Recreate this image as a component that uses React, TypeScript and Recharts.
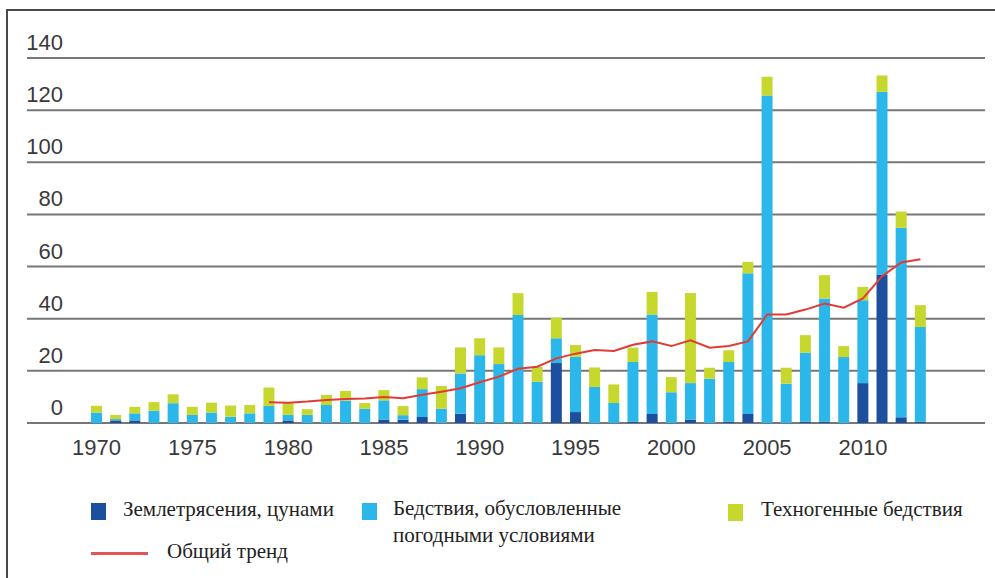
import React from "react";
import { ComposedChart, Bar, Line, XAxis, YAxis, CartesianGrid } from "recharts";

const years = [
  1970, 1971, 1972, 1973, 1974, 1975, 1976, 1977, 1978, 1979,
  1980, 1981, 1982, 1983, 1984, 1985, 1986, 1987, 1988, 1989,
  1990, 1991, 1992, 1993, 1994, 1995, 1996, 1997, 1998, 1999,
  2000, 2001, 2002, 2003, 2004, 2005, 2006, 2007, 2008, 2009,
  2010, 2011, 2012, 2013,
];

// Землетрясения, цунами
const quakes = [
  0, 1, 1, 0, 0, 0, 0, 0, 0, 0,
  1, 0, 0, 0, 0, 1.3, 1.3, 2.3, 0, 3.6,
  0, 0, 0, 0, 23, 4.2, 0, 0, 0.5, 3.5,
  0, 1.3, 0, 0.5, 3.5, 0, 0, 0.5, 0.5, 0,
  15.3, 57, 2.2, 0.5,
];

// Бедствия, обусловленные погодными условиями
const weather = [
  4, 0.5, 2.7, 4.7, 7.6, 3.1, 4, 2.4, 3.7, 6.5,
  2.1, 3.1, 6.9, 8.6, 5.5, 7.4, 1.7, 10.7, 5.5, 15.4,
  26, 22.6, 41.4, 15.8, 9.5, 21.2, 13.8, 7.7, 22.9, 38.1,
  11.8, 14, 17, 22.9, 53.9, 125.6, 15.1, 26.5, 47.3, 25.3,
  31.8, 70, 72.7, 36.3,
];

// Техногенные бедствия
const manmade = [
  2.6, 1.6, 2.5, 3.3, 3.4, 3.1, 3.8, 4.3, 3.2, 7.1,
  4.7, 2.2, 3.9, 3.7, 2.2, 3.9, 3.5, 4.5, 8.7, 10,
  6.5, 6.4, 8.4, 5.7, 7.9, 4.5, 7.5, 7.1, 5.5, 8.7,
  5.8, 34.6, 4.2, 4.5, 4.4, 7.2, 6.1, 6.7, 8.9, 4.2,
  5.1, 6.3, 6.2, 8.4,
];

// Общий тренд (с 1979 г.)
const trend: (number | null)[] = [
  null, null, null, null, null, null, null, null, null, 8,
  7.8, 8.2, 8.8, 9.2, 9.4, 10, 9.5, 10.8, 12, 13.3,
  15.6, 17.8, 20.8, 21.6, 24.8, 26.6, 28, 27.6, 30, 31.3,
  29.5, 31.7, 28.9, 29.5, 31.3, 41.6, 41.6, 43.5, 45.8, 44.2,
  47.8, 56.3, 61.6, 62.8,
];

const yTicks = [0, 20, 40, 60, 80, 100, 120, 140];

const data = years.map((year, i) => ({
  year,
  quakes: quakes[i],
  weather: weather[i],
  manmade: manmade[i],
  trend: trend[i],
}));

const C_QUAKE = "#1d4f9f";
const C_WEATHER = "#2cb7ea";
const C_MANMADE = "#c6d82e";
const C_TREND = "#e23b36";
const AXIS_FONT = "'Liberation Sans', Arial, sans-serif";

const XTick = (props: any) => {
  const { x, y, payload } = props;
  return (
    <text x={x} y={y + 24} textAnchor="middle" fontSize={22} fill="#3a3a3a" fontFamily={AXIS_FONT}>
      {payload.value}
    </text>
  );
};

const YTick = (props: any) => {
  const { y, payload } = props;
  return (
    <text x={63} y={y - 8} textAnchor="end" fontSize={22} fill="#3a3a3a" fontFamily={AXIS_FONT}>
      {payload.value}
    </text>
  );
};

const legendText: React.CSSProperties = {
  position: "absolute",
  fontFamily: "'Liberation Serif', 'Times New Roman', serif",
  fontSize: 21,
  color: "#222",
  whiteSpace: "nowrap",
};

const swatch = (left: number, top: number, color: string) => (
  <div style={{ position: "absolute", left, top, width: 15, height: 17, background: color }} />
);

export default function App() {
  return (
    <div style={{ position: "absolute", left: 0, top: 0, width: 995, height: 578, background: "#fff", overflow: "hidden" }}>
      <div
        style={{
          position: "absolute",
          left: 6,
          top: 9,
          width: 995,
          height: 578,
          borderLeft: "2px solid #4a4a4a",
          borderTop: "2px solid #4a4a4a",
        }}
      />
      <ComposedChart
        width={995}
        height={578}
        data={data}
        margin={{ top: 58, right: 10, left: 7, bottom: 115 }}
        barCategoryGap={0}
        style={{ position: "absolute", left: 0, top: 0 }}
      >
        <CartesianGrid vertical={false} stroke="#777" strokeWidth={2} />
        <XAxis
          dataKey="year"
          height={40}
          interval={4}
          padding={{ left: 60, right: 55 }}
          tickLine={false}
          axisLine={false}
          tick={<XTick />}
        />
        <YAxis
          width={20}
          domain={[0, 140]}
          ticks={yTicks}
          interval={0}
          tickLine={false}
          axisLine={false}
          tick={<YTick />}
        />
        <Bar dataKey="quakes" stackId="a" fill={C_QUAKE} barSize={11} isAnimationActive={false} />
        <Bar dataKey="weather" stackId="a" fill={C_WEATHER} barSize={11} isAnimationActive={false} />
        <Bar dataKey="manmade" stackId="a" fill={C_MANMADE} barSize={11} isAnimationActive={false} />
        <Line
          dataKey="trend"
          type="linear"
          stroke={C_TREND}
          strokeWidth={2}
          dot={false}
          activeDot={false}
          isAnimationActive={false}
        />
      </ComposedChart>

      {swatch(91, 503, C_QUAKE)}
      <div style={{ ...legendText, left: 123, top: 499, lineHeight: "21px" }}>Землетрясения, цунами</div>

      {swatch(362, 503, C_WEATHER)}
      <div style={{ ...legendText, left: 393, top: 495, lineHeight: "27px" }}>
        Бедствия, обусловленные
        <br />
        погодными условиями
      </div>

      {swatch(728, 504, C_MANMADE)}
      <div style={{ ...legendText, left: 761, top: 499, lineHeight: "21px" }}>Техногенные бедствия</div>

      <div style={{ position: "absolute", left: 91, top: 552, width: 57, height: 3, background: "#e05555" }} />
      <div style={{ ...legendText, left: 167, top: 541, lineHeight: "21px" }}>Общий тренд</div>
    </div>
  );
}
